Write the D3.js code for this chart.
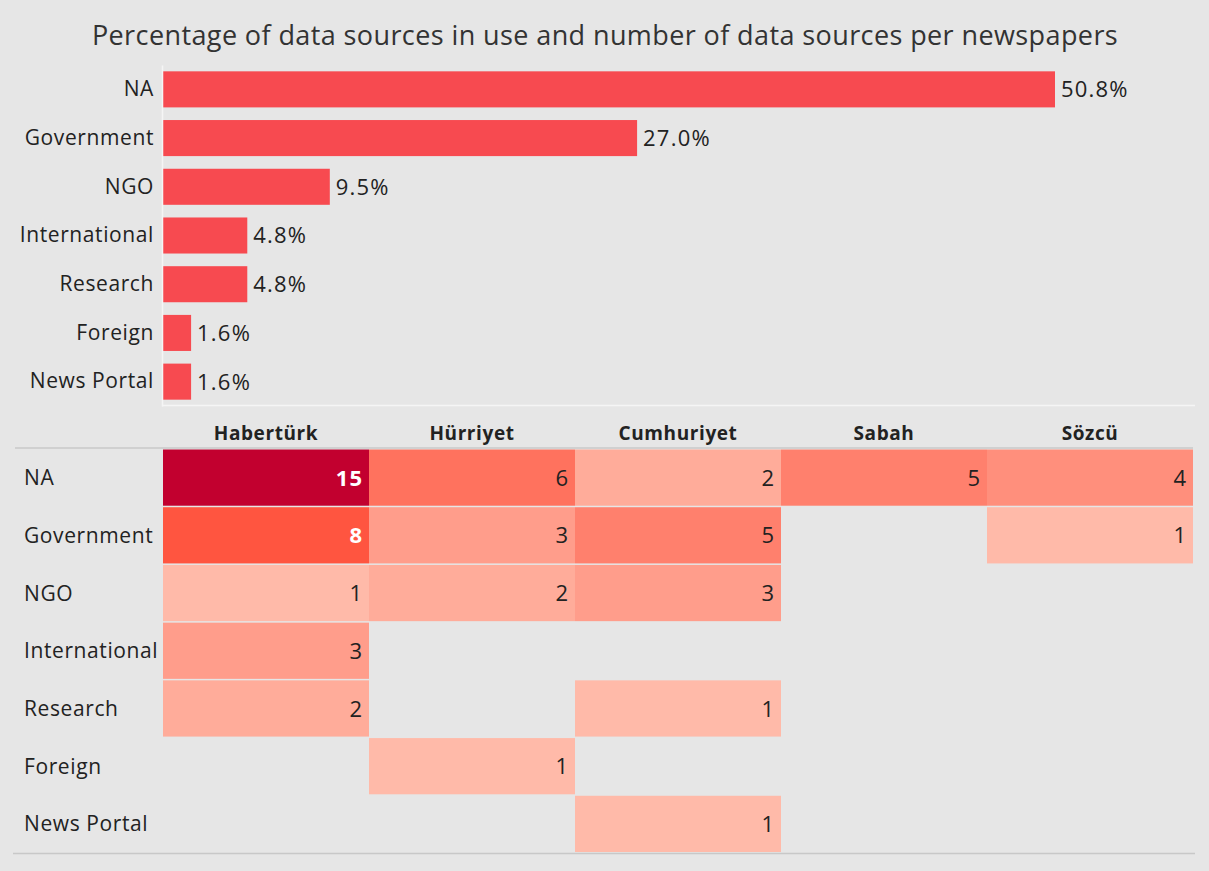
<!DOCTYPE html>
<html><head><meta charset="utf-8">
<script src="https://cdn.jsdelivr.net/npm/d3@7"></script>
<style>html,body{margin:0;padding:0;background:#e6e6e6;}svg{display:block;}</style>
</head><body>
<script>
const title = "Percentage of data sources in use and number of data sources per newspapers";
const sources = ["NA","Government","NGO","International","Research","Foreign","News Portal"];
const percentages = [50.8, 27.0, 9.5, 4.8, 4.8, 1.6, 1.6];
const newspapers = ["Habertürk","Hürriyet","Cumhuriyet","Sabah","Sözcü"];
// counts[row][col], null = no data
const countsNA = [15, 6, 2, 5, 4];
const countsGovernment = [8, 3, 5, null, 1];
const countsNGO = [1, 2, 3, null, null];
const countsInternational = [3, null, null, null, null];
const countsResearch = [2, null, 1, null, null];
const countsForeign = [null, 1, null, null, null];
const countsNewsPortal = [null, null, 1, null, null];
const counts = [countsNA, countsGovernment, countsNGO, countsInternational, countsResearch, countsForeign, countsNewsPortal];

const W = 1209, H = 871;
const font = "'Open Sans', sans-serif";
const svg = d3.select("body").append("svg").attr("width", W).attr("height", H)
  .style("font-family", font);
svg.append("rect").attr("width", W).attr("height", H).attr("fill", "#e6e6e6");

svg.append("text").attr("x", 605).attr("y", 45).attr("text-anchor", "middle")
  .attr("font-size", 27).attr("letter-spacing", 0.4).attr("fill", "#333").text(title);

// Bar chart
const x0 = 163;
const x = d3.scaleLinear().domain([0, 50.8]).range([x0, 1055]);
const yb = d3.scaleBand().domain(sources).range([65, 406]).paddingInner(0.26).paddingOuter(0.13);
const barG = svg.append("g");
barG.selectAll("rect.bar").data(sources).join("rect")
  .attr("x", x(0)).attr("y", d => yb(d)).attr("height", yb.bandwidth())
  .attr("width", (d,i) => x(percentages[i]) - x(0)).attr("fill", "#f74a50");
barG.selectAll("text.val").data(sources).join("text")
  .attr("x", (d,i) => x(percentages[i]) + 6).attr("y", d => yb(d) + yb.bandwidth()/2)
  .attr("dy", "0.36em").attr("font-size", 22).attr("letter-spacing", 1.2).attr("fill", "#222")
  .text((d,i) => percentages[i].toFixed(1) + "%");
const yAxis = d3.axisLeft(yb).tickSize(0).tickPadding(8);
const ya = barG.append("g").attr("transform", `translate(${x0 - 1},0)`).call(yAxis);
ya.select(".domain").attr("stroke", "#f5f5f5").attr("stroke-width", 1.5);
ya.selectAll("text").attr("font-size", 21).attr("letter-spacing", 0.6).attr("fill", "#222").attr("font-family", font);
svg.append("line").attr("x1", 162).attr("x2", 1195).attr("y1", 405.5).attr("y2", 405.5)
  .attr("stroke", "#f5f5f5").attr("stroke-width", 1.5);

// Heatmap
const xh = d3.scaleBand().domain(newspapers).range([163, 1193]);
const yh = d3.scaleBand().domain(sources).range([449, 853]);
const color = d3.scaleLinear().domain([1, 8, 15]).range(["#ffbaa9", "#ff5540", "#c2002f"]);
const hm = svg.append("g");
const xAxis = d3.axisTop(xh).tickSize(0).tickPadding(0);
const xa = hm.append("g").attr("transform", "translate(0,440)").call(xAxis);
xa.select(".domain").remove();
xa.selectAll("text").attr("font-size", 19).attr("letter-spacing", 0.6).attr("font-weight", "bold").attr("fill", "#222").attr("font-family", font);

const cells = [];
counts.forEach((row, r) => row.forEach((v, c) => { if (v != null) cells.push({s: sources[r], n: newspapers[c], v}); }));
hm.selectAll("rect.cell").data(cells).join("rect")
  .attr("x", d => xh(d.n)).attr("y", d => yh(d.s) + 0.5)
  .attr("width", xh.bandwidth()).attr("height", yh.bandwidth() - 1.5)
  .attr("fill", d => color(d.v));
hm.selectAll("text.cv").data(cells).join("text")
  .attr("x", d => xh(d.n) + xh.bandwidth() - 6).attr("y", d => yh(d.s) + yh.bandwidth()/2)
  .attr("dy", "0.36em").attr("text-anchor", "end").attr("font-size", 22).attr("letter-spacing", 1)
  .attr("font-weight", d => d.v >= 8 ? "bold" : "normal")
  .attr("fill", d => d.v >= 8 ? "#fff" : "#222").text(d => d.v);
hm.selectAll("text.rl").data(sources).join("text")
  .attr("x", 24).attr("y", d => yh(d) + yh.bandwidth()/2).attr("dy", "0.35em")
  .attr("font-size", 21).attr("letter-spacing", 0.6).attr("fill", "#222").text(d => d);
svg.append("line").attr("x1", 15).attr("x2", 1193).attr("y1", 448).attr("y2", 448)
  .attr("stroke", "#c8c8c8").attr("stroke-width", 1.5);
svg.append("line").attr("x1", 13).attr("x2", 1195).attr("y1", 853.5).attr("y2", 853.5)
  .attr("stroke", "#c8c8c8").attr("stroke-width", 1.5);
</script>
</body></html>
